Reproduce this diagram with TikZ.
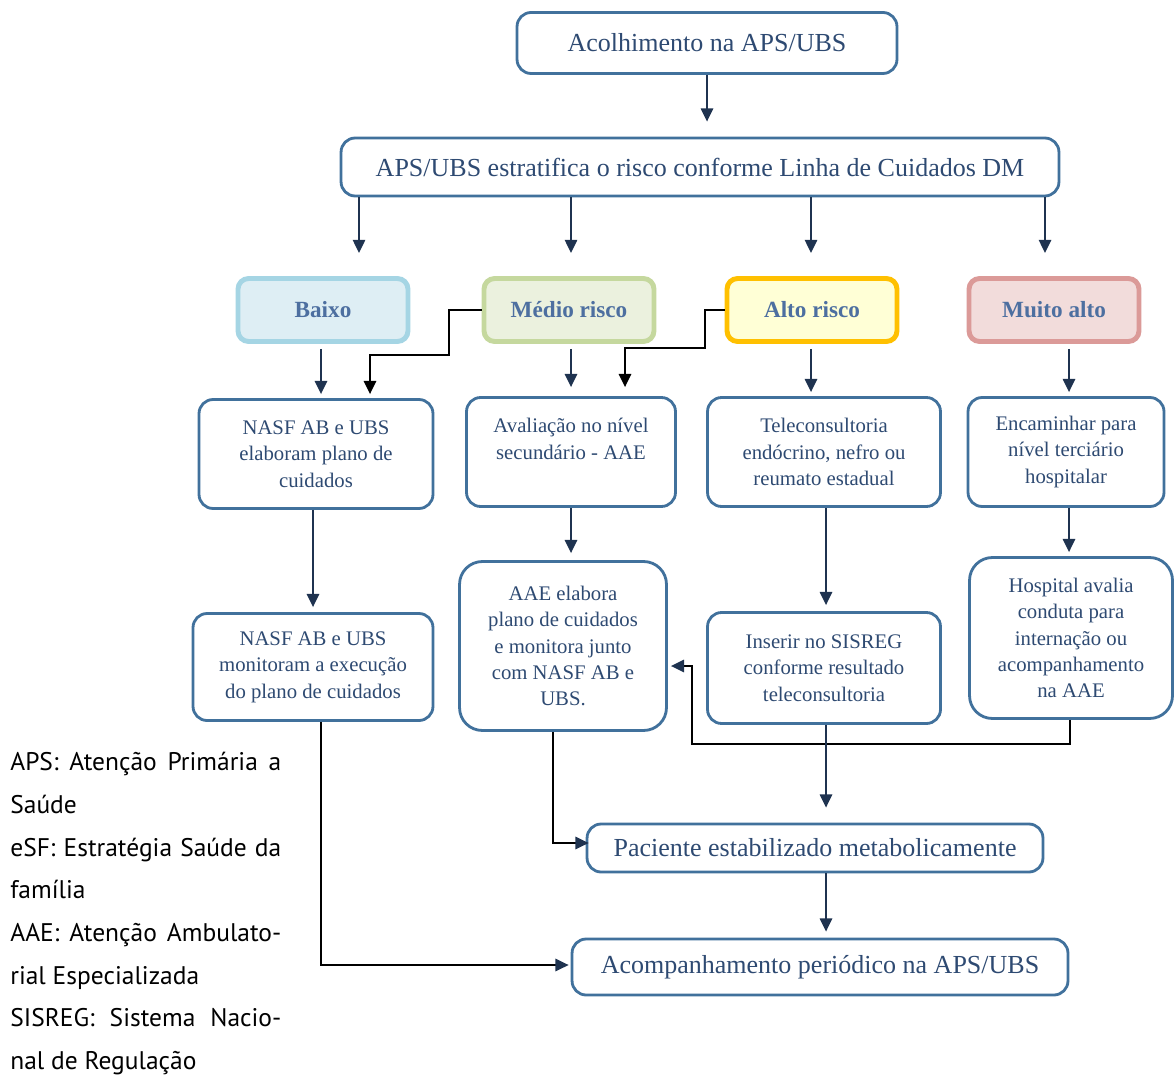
\documentclass[tikz,border=0pt]{standalone}
\usepackage{fontspec}
\setmainfont{Liberation Serif}
\newfontfamily\legendfont{PT Sans}
\usetikzlibrary{arrows.meta,calc}

\definecolor{boxline}{HTML}{41719C}
\definecolor{boxtext}{HTML}{2E4A72}
\definecolor{risktext}{HTML}{4D6FA0}
\definecolor{navy}{HTML}{1F3350}
\definecolor{baixofill}{HTML}{DEEEF4}
\definecolor{baixoline}{HTML}{A5D5E4}
\definecolor{mediofill}{HTML}{EBF1DE}
\definecolor{medioline}{HTML}{C5D89E}
\definecolor{altofill}{HTML}{FFFFD6}
\definecolor{altoline}{HTML}{FFC000}
\definecolor{muitofill}{HTML}{F2DCDB}
\definecolor{muitoline}{HTML}{DB9A98}

\tikzset{
	box/.style={draw=boxline, line width=1.6pt, rounded corners=8pt, fill=white, text=boxtext, align=center, inner sep=2pt, font=\fontsize{11.8}{15}\selectfont},
	bigbox/.style={box, font=\fontsize{14.8}{17}\selectfont},
	risk/.style={line width=2.8pt, rounded corners=6pt, text=risktext, minimum width=3.4cm, minimum height=1.26cm, font=\fontsize{13.2}{15}\selectfont\bfseries},
	arr/.style={draw=navy, line width=1.1pt, -{Triangle[width=7pt,length=7.5pt]}},
	link/.style={draw=black, line width=1.1pt, -{Triangle[width=7pt,length=7.5pt]}},
	linknavy/.style={draw=black, line width=1.1pt, -{Triangle[width=7pt,length=7.5pt,color=navy]}}
}

\begin{document}
\begin{tikzpicture}[x=0.02cm, y=-0.02cm]
	%%%%% START %%%%%
	\useasboundingbox (0, 0) rectangle (1175, 1074);
	
	\node[bigbox, minimum width=7.6cm, minimum height=1.22cm] (acol) at (707, 43) {Acolhimento na APS/UBS};
	\node[bigbox, minimum width=14.36cm, minimum height=1.16cm] (estr) at (700, 167) {APS/UBS estratifica o risco conforme Linha de Cuidados DM};
	
	\node[risk, draw=baixoline, fill=baixofill] (baixo) at (323, 310) {Baixo};
	\node[risk, draw=medioline, fill=mediofill] (medio) at (569, 310) {Médio risco};
	\node[risk, draw=altoline, fill=altofill] (alto) at (812, 310) {Alto risco};
	\node[risk, draw=muitoline, fill=muitofill] (muito) at (1054, 310) {Muito alto};
	
	\node[box, minimum width=4.68cm, minimum height=2.18cm] (nasfa) at (316, 454) {NASF AB e UBS\\ elaboram plano de\\ cuidados};
	\node[box, minimum width=4.18cm, minimum height=2.18cm] (aval) at (571, 452) {Avaliação no nível\\ secundário - AAE\\ \mbox{}};
	\node[box, minimum width=4.66cm, minimum height=2.18cm] (tele) at (824, 452) {Teleconsultoria\\ endócrino, nefro ou\\ reumato estadual};
	\node[box, minimum width=3.92cm, minimum height=2.18cm] (enc) at (1066, 452) {Encaminhar para\\ nível terciário\\ hospitalar};
	
	\node[box, minimum width=4.8cm, minimum height=2.14cm] (nasfb) at (313, 667) {NASF AB e UBS\\ monitoram a execução\\ do plano de cuidados};
	\node[box, rounded corners=13pt, minimum width=4.14cm, minimum height=3.38cm] (aae) at (563, 646) {AAE elabora\\ plano de cuidados\\ e monitora junto\\ com NASF AB e\\ UBS.};
	\node[box, minimum width=4.66cm, minimum height=2.22cm] (ins) at (824, 668) {Inserir no SISREG\\ conforme resultado\\ teleconsultoria};
	\node[box, rounded corners=13pt, minimum width=4.06cm, minimum height=3.22cm] (hosp) at (1071, 638) {Hospital avalia\\ conduta para\\ internação ou\\ acompanhamento\\ na AAE};
	
	\node[box, font=\fontsize{14.8}{17}\selectfont, minimum width=9.12cm, minimum height=0.96cm] (pac) at (815, 848) {Paciente estabilizado metabolicamente};
	\node[box, font=\fontsize{14.8}{17}\selectfont, minimum width=9.92cm, minimum height=1.12cm] (acomp) at (820, 967) {Acompanhamento periódico na APS/UBS};
	
	% legenda
	\node[anchor=north west, inner sep=0, text width=5.42cm, align=justify, font=\legendfont\fontsize{14.5}{24.3}\selectfont] (leg) at (10, 752) {APS: Atenção Primária a\linebreak Saúde\par eSF: Estratégia Saúde da\linebreak família\par AAE:~Atenção Ambulato-\linebreak rial Especializada\par SISREG: Sistema Nacio-\linebreak nal de Regulação};
	
	% setas
	\draw[arr] (acol.south) -- ($(acol.south |- estr.north)+(0,-15)$);
	\draw[arr] ($(estr.south -| baixo.north)+(36,0)$) -- ($(baixo.north)+(36,-23)$);
	\draw[arr] ($(estr.south -| medio.north)+(2,0)$) -- ($(medio.north)+(2,-23)$);
	\draw[arr] ($(estr.south -| alto.north)+(-1,0)$) -- ($(alto.north)+(-1,-23)$);
	\draw[arr] ($(estr.south -| muito.north)+(-9,0)$) -- ($(muito.north)+(-9,-23)$);
	
	\draw[arr] ($(baixo.south)+(-2,5)$) -- ($(baixo.south |- nasfa.north)+(-2,-4)$);
	\draw[link] (medio.west) -- ++(-33, 0) |- ($(nasfa.north)+(54,-43)$) -- ($(nasfa.north)+(54,-4)$);
	\draw[arr] ($(medio.south)+(2,5)$) -- ($(aval.north)+(0,-9)$);
	\draw[link] (alto.west) -- ++(-20, 0) |- ($(aval.north)+(54,-48)$) -- ($(aval.north)+(54,-9)$);
	\draw[arr] ($(alto.south)+(-1,5)$) -- ($(alto.south |- tele.north)+(-1,-4)$);
	\draw[arr] ($(muito.south -| enc.north)+(3,5)$) -- ($(enc.north)+(3,-4)$);
	
	\draw[arr] (nasfa.south -| nasfb.north) -- ($(nasfb.north)+(0,-5)$);
	\draw[arr] (aval.south) -- ($(aval.south |- aae.north)+(0,-7)$);
	\draw[arr] ($(tele.south)+(2,0)$) -- ($(ins.north)+(2,-6)$);
	\draw[arr] ($(enc.south)+(3,0)$) -- ($(enc.south |- hosp.north)+(3,-4)$);
	
	\draw[linknavy] ($(hosp.south)+(-1,0)$) -- ++(0, 24) -| ($(aae.east)+(24,20)$) -- ($(aae.east)+(3,20)$);
	\draw[arr] ($(ins.south)+(2,0)$) -- ($(pac.north -| ins.south)+(2,-15)$);
	\draw[linknavy] ($(aae.south)+(-10,0)$) |- ($(pac.west)+(3,-5)$);
	\draw[arr] ($(pac.south)+(11,0)$) -- ($(pac.south |- acomp.north)+(11,-6)$);
	\draw[linknavy] ($(nasfb.south)+(8,0)$) |- ($(acomp.west)+(-2,-2)$);
	
	%%%%% END %%%%%
\end{tikzpicture}
\end{document}
